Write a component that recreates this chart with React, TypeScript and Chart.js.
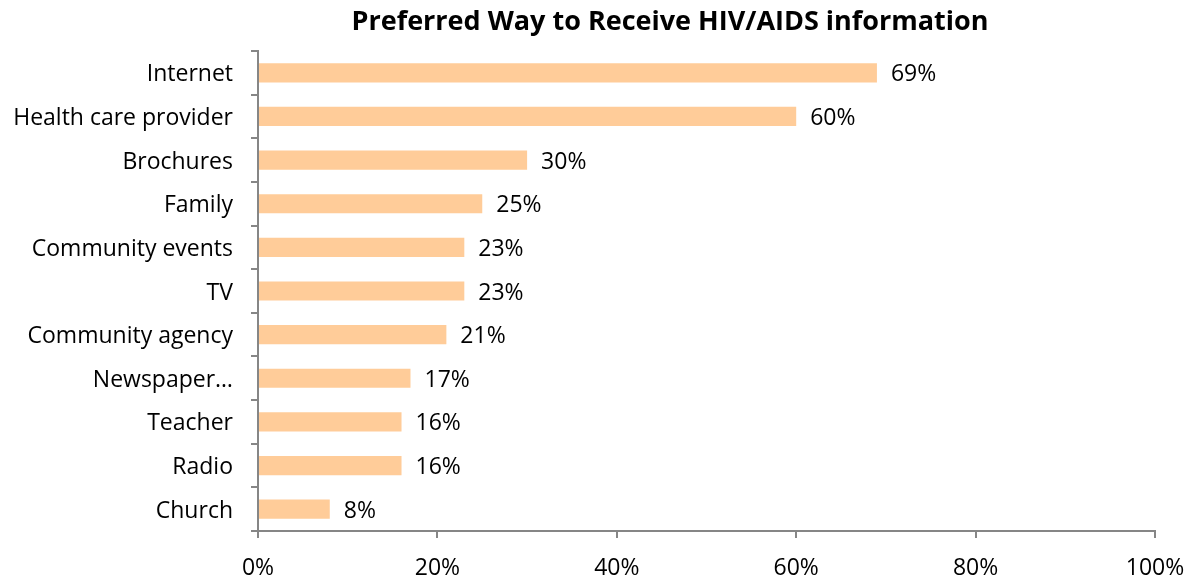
import React, { useEffect, useRef } from "react";
import { Chart, registerables } from "chart.js";

Chart.register(...registerables);

const categories = [
  "Internet",
  "Health care provider",
  "Brochures",
  "Family",
  "Community events",
  "TV",
  "Community agency",
  "Newspaper…",
  "Teacher",
  "Radio",
  "Church",
];
const values = [69, 60, 30, 25, 23, 23, 21, 17, 16, 16, 8];
const valueLabels = ["69%", "60%", "30%", "25%", "23%", "23%", "21%", "17%", "16%", "16%", "8%"];
const xTicks = [0, 20, 40, 60, 80, 100];
const title = "Preferred Way to Receive HIV/AIDS information";

const FONT = "'Open Sans', sans-serif";

export default function App() {
  const ref = useRef<HTMLCanvasElement | null>(null);
  useEffect(() => {
    document.body.style.margin = "0";
    const canvas = ref.current!;
    const labelPlugin = {
      id: "valueLabels",
      afterDatasetsDraw(chart: any) {
        const ctx = chart.ctx;
        const meta = chart.getDatasetMeta(0);
        ctx.save();
        ctx.font = `23px ${FONT}`;
        ctx.fillStyle = "#000";
        ctx.textAlign = "left";
        ctx.textBaseline = "middle";
        meta.data.forEach((bar: any, i: number) => {
          ctx.fillText(valueLabels[i], bar.x + 14, bar.y + 2);
        });
        ctx.font = `bold 27px ${FONT}`;
        ctx.textAlign = "center";
        ctx.fillText(title, 670, 22);
        ctx.restore();
      },
    };
    const chart = new Chart(canvas, {
      type: "bar",
      data: {
        labels: categories,
        datasets: [
          {
            data: values,
            backgroundColor: "#FFCC99",
            borderWidth: 0,
            barPercentage: 0.88,
            categoryPercentage: 0.5,
          },
        ],
      },
      options: {
        indexAxis: "y",
        animation: false,
        responsive: false,
        maintainAspectRatio: false,
        layout: { padding: { top: 51, right: 41, left: 0, bottom: 0 } },
        plugins: { legend: { display: false }, tooltip: { enabled: false } },
        scales: {
          x: {
            min: 0,
            max: 100,
            afterBuildTicks(scale: any) {
              scale.ticks = xTicks.map((v) => ({ value: v }));
            },
            afterFit(scale: any) {
              scale.height = 49;
              scale.paddingRight = 0;
              scale.paddingLeft = 0;
            },
            grid: {
              drawOnChartArea: false,
              drawTicks: true,
              tickLength: 7,
              color: "#868686",
              lineWidth: 2,
            },
            border: { color: "#868686", width: 2 },
            ticks: {
              font: { family: FONT, size: 23 },
              color: "#000",
              padding: 17,
              maxRotation: 0,
              callback: (v: any) => v + "%",
            },
          },
          y: {
            afterFit(scale: any) {
              scale.width = 258;
              scale.paddingTop = 0;
              scale.paddingBottom = 0;
            },
            grid: {
              drawOnChartArea: false,
              drawTicks: true,
              tickLength: 7,
              offset: true,
              color: "#868686",
              lineWidth: 2,
            },
            border: { color: "#868686", width: 2 },
            ticks: {
              font: { family: FONT, size: 23 },
              color: "#000",
              padding: 18,
              labelOffset: 2,
              autoSkip: false,
            },
          },
        },
      },
      plugins: [labelPlugin],
    });
    return () => chart.destroy();
  }, []);
  return (
    <div style={{ position: "fixed", left: 0, top: 0, width: 1196, height: 580, background: "#fff" }}>
      <canvas ref={ref} width={1196} height={580} />
    </div>
  );
}
